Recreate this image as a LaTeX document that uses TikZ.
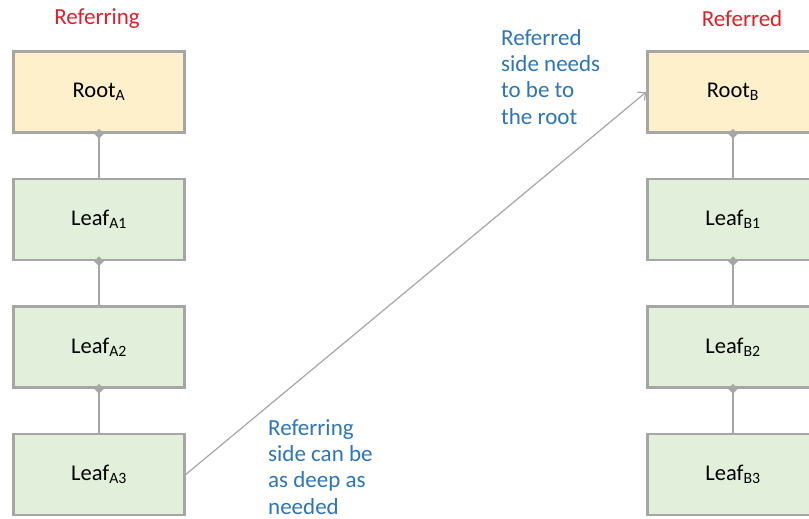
\documentclass[tikz,border=0pt]{standalone}
\usepackage{fontspec}
\setmainfont{Carlito}
\usetikzlibrary{positioning}
\usetikzlibrary{shapes.geometric,arrows.meta}
\definecolor{rootfill}{RGB}{253,240,203}
\definecolor{leaffill}{RGB}{226,239,218}
\definecolor{edgegray}{RGB}{166,166,166}
\definecolor{titlered}{RGB}{226,30,40}
\definecolor{noteblue}{RGB}{46,117,182}
\tikzstyle{box} = [rectangle, draw=edgegray, line width=2.5pt,
                minimum width=171pt, minimum height=81pt, font=\fontsize{22.5}{26}\selectfont]
\tikzstyle{root} = [box, fill=rootfill]
\tikzstyle{leaf} = [box, fill=leaffill]
\tikzstyle{joint} = [diamond, fill=edgegray, inner sep=0pt, minimum size=10pt]
\tikzstyle{link} = [draw=edgegray, line width=1.5pt]
\tikzstyle{line} = [draw=edgegray, line width=1.2pt, -{Straight Barb[length=6pt,width=11pt]}]
\tikzstyle{title} = [text=titlered, inner sep=0pt, font=\fontsize{23}{26}\selectfont]
\tikzstyle{note} = [text=noteblue, align=left, inner sep=0pt, font=\fontsize{23}{26.4}\selectfont]

\begin{document}
\begin{tikzpicture}[x=1pt, y=-1pt, node distance=44pt]
    \useasboundingbox (0,0) rectangle (809,519);
    % referring tree
    \node[root](rootA) at (99,92) {Root\textsubscript{A}};
    \node[leaf, below=of rootA](leafA1){Leaf\textsubscript{A1}};
    \node[leaf, below=of leafA1](leafA2){Leaf\textsubscript{A2}};
    \node[leaf, below=of leafA2](leafA3){Leaf\textsubscript{A3}};
    % referred tree
    \node[root](rootB) at (733,92) {Root\textsubscript{B}};
    \node[leaf, below=of rootB](leafB1){Leaf\textsubscript{B1}};
    \node[leaf, below=of leafB1](leafB2){Leaf\textsubscript{B2}};
    \node[leaf, below=of leafB2](leafB3){Leaf\textsubscript{B3}};
    \foreach \a/\b in {rootA/leafA1, leafA1/leafA2, leafA2/leafA3,
                       rootB/leafB1, leafB1/leafB2, leafB2/leafB3}{
        \path[link] (\a.south) -- (\b.north);
        \node[joint] at (\a.south) {};
    }
    \node[title](referring) at (97,19) {Referring};
    \node[title](referred) at (742,19) {Referred};
    \node[note, anchor=north west](deep) at (268,419) {Referring\\side can be\\as deep as\\needed};
    \node[note, anchor=north west](toroot) at (501,29) {Referred\\side needs\\to be to\\the root};
    \path[line] (leafA3.east) -- (rootB.west);
\end{tikzpicture}
\end{document}
